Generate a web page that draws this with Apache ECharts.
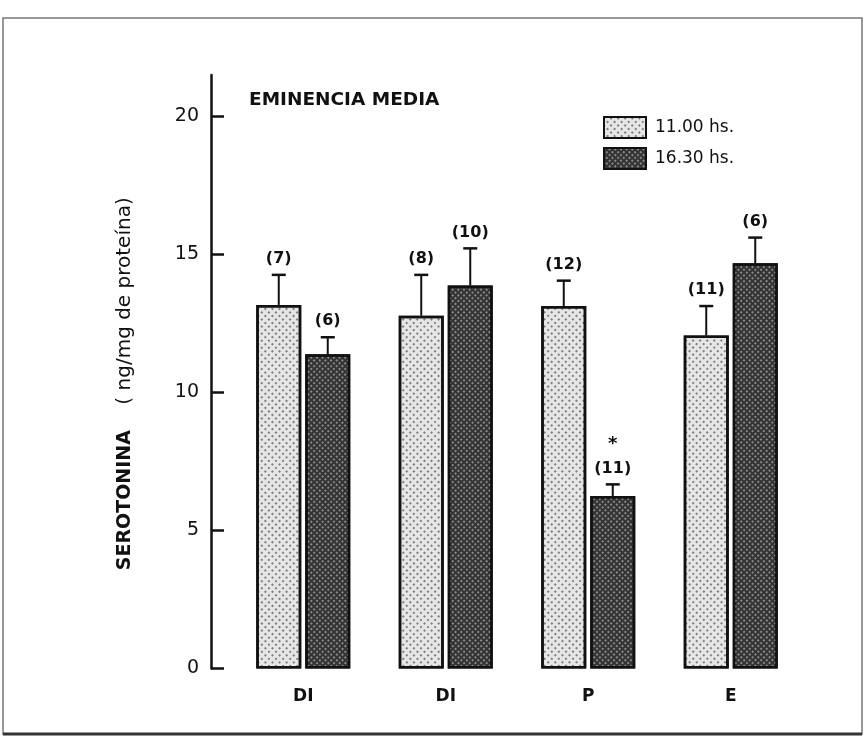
<!DOCTYPE html>
<html>
<head>
<meta charset="utf-8">
<script src="https://cdn.jsdelivr.net/npm/echarts@6/dist/echarts.min.js"></script>
<style>
html,body{margin:0;padding:0;background:#fff;}
#chart{width:866px;height:737px;}
</style>
</head>
<body>
<div id="chart"></div>
<script>
// ---- data ----
const categories = ['DI', 'DI', 'P', 'E'];
const seriesNames = ['11.00 hs.', '16.30 hs.'];
const meanAM = [13.17, 12.78, 13.13, 12.06];
const errAM  = [1.09, 1.48, 0.92, 1.07];
const nAM    = [7, 8, 12, 11];
const meanPM = [11.38, 13.87, 6.25, 14.68];
const errPM  = [0.62, 1.35, 0.42, 0.93];
const nPM    = [6, 10, 11, 6];
const starPM = ['', '', '*', ''];
const yTicks = [0, 5, 10, 15, 20];
const titleText = 'EMINENCIA MEDIA';
const yNameBold = 'SEROTONINA';
const yNameRest = '( ng/mg de proteína)';

const FONT = 'DejaVu Sans';
const BAR_W = 45;
const BAR_GAP = 4;
const OFF = (BAR_W + BAR_GAP) / 2;

const chart = echarts.init(document.getElementById('chart'), null, {renderer: 'canvas'});

function errSeries(name, means, errs, ns, stars, offset) {
  return {
    type: 'custom',
    name: name + ' err',
    z: 5,
    silent: true,
    data: means.map((m, i) => [i, m, errs[i]]),
    encode: {x: 0, y: 1},
    renderItem: function (params, api) {
      const i = api.value(0), m = api.value(1), e = api.value(2);
      const base = api.coord([i, m]);
      const top = api.coord([i, m + e]);
      const x = base[0] + offset;
      const children = [
        {type: 'line', shape: {x1: x, y1: base[1], x2: x, y2: top[1]}, style: {stroke: '#111', lineWidth: 2}},
        {type: 'line', shape: {x1: x - 7, y1: top[1], x2: x + 7, y2: top[1]}, style: {stroke: '#111', lineWidth: 2.5}},
        {type: 'text', style: {text: '(' + ns[params.dataIndex] + ')', x: x, y: top[1] - 16, align: 'center', verticalAlign: 'middle', fill: '#111', font: '600 16px "' + FONT + '"'}}
      ];
      const s = stars ? stars[params.dataIndex] : '';
      if (s) {
        children.push({type: 'text', style: {text: s, x: x, y: top[1] - 40, align: 'center', verticalAlign: 'middle', fill: '#111', font: '600 18px "' + FONT + '"'}});
      }
      return {type: 'group', children: children};
    }
  };
}

const option = {
  backgroundColor: '#fff',
  animation: false,
  aria: {enabled: true, decal: {show: true}},
  grid: {left: 232, right: 64, top: 75, bottom: 68.5},
  title: {
    text: titleText,
    left: 244, top: 86,
    textStyle: {fontFamily: FONT, fontSize: 18.5, fontWeight: 'bold', color: '#111'}
  },
  legend: {
    orient: 'vertical',
    left: 598, top: 111,
    icon: 'rect',
    itemWidth: 42, itemHeight: 21, itemGap: 8,
    data: seriesNames,
    textStyle: {fontFamily: FONT, fontSize: 17, color: '#111', padding: [0, 0, 0, 4]}
  },
  xAxis: {
    type: 'category',
    data: categories,
    axisLine: {show: false},
    axisTick: {show: false},
    axisLabel: {margin: 20, fontFamily: FONT, fontSize: 17, fontWeight: 'bold', color: '#111'}
  },
  yAxis: {
    type: 'value',
    min: 0, max: 21.5,
    offset: 21,
    name: '{b|' + yNameBold + '}    ' + yNameRest,
    nameLocation: 'middle',
    nameGap: 76,
    nameTextStyle: {fontFamily: FONT, fontSize: 20, color: '#111', padding: [0, 24, 0, 0],
      rich: {b: {fontFamily: FONT, fontSize: 19, fontWeight: 600, color: '#111'}}},
    splitLine: {show: false},
    axisLine: {show: true, lineStyle: {color: '#111', width: 2.5}},
    axisTick: {show: true, inside: true, length: 13, customValues: yTicks, lineStyle: {color: '#111', width: 2.5}},
    axisLabel: {customValues: yTicks, margin: 12, fontFamily: FONT, fontSize: 19, color: '#111'}
  },
  series: [
    {
      type: 'bar', name: seriesNames[0], data: meanAM,
      barWidth: BAR_W, barGap: (BAR_GAP / BAR_W * 100).toFixed(1) + '%',
      itemStyle: {
        color: '#e6e6e6', borderColor: '#111', borderWidth: 2.5,
        decal: {symbol: 'circle', symbolSize: 1, color: 'rgba(0,0,0,0.6)', dashArrayX: [[2, 3]], dashArrayY: [2, 3], rotation: 0.785}
      }
    },
    {
      type: 'bar', name: seriesNames[1], data: meanPM,
      barWidth: BAR_W,
      itemStyle: {
        color: '#333333', borderColor: '#111', borderWidth: 2.5,
        decal: {symbol: 'circle', symbolSize: 1, color: 'rgba(255,255,255,0.55)', dashArrayX: [[2, 2]], dashArrayY: [2, 2], rotation: 0.785}
      }
    },
    errSeries(seriesNames[0], meanAM, errAM, nAM, null, -OFF),
    errSeries(seriesNames[1], meanPM, errPM, nPM, starPM, OFF)
  ],
  graphic: [
    {type: 'rect', silent: true, shape: {x: 3, y: 18, width: 859, height: 716}, style: {fill: 'none', stroke: '#777', lineWidth: 1.5}},
    {type: 'line', silent: true, shape: {x1: 3, y1: 734, x2: 862, y2: 734}, style: {stroke: '#333', lineWidth: 3}}
  ]
};
chart.setOption(option);
</script>
</body>
</html>
